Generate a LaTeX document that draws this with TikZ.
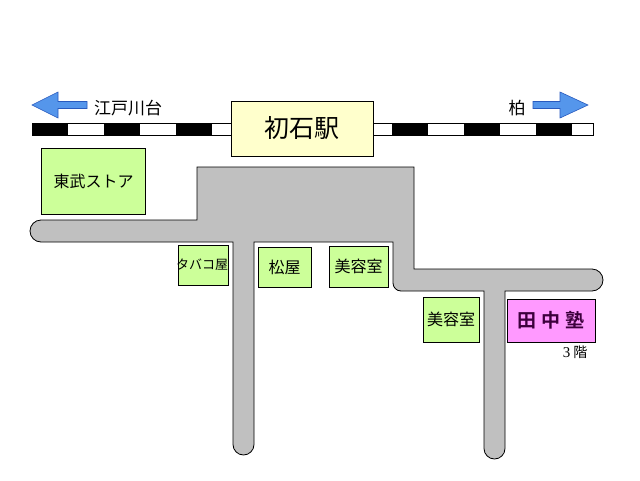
\documentclass[tikz,border=0pt]{standalone}
\usepackage{fontspec}
\setmainfont{Liberation Serif}
\newfontfamily\jp{Noto Sans CJK JP}
\newfontfamily\jpb{Noto Sans CJK JP}[BoldFont={* Bold}]
\definecolor{shopgreen}{RGB}{204,255,153}
\definecolor{stationyellow}{RGB}{255,255,204}
\definecolor{juku}{RGB}{255,153,255}
\definecolor{road}{RGB}{192,192,192}
\definecolor{arrowfill}{RGB}{85,150,235}
\definecolor{arrowedge}{RGB}{40,90,190}
\definecolor{jukutext}{RGB}{60,0,60}
\tikzset{
  shop/.style={draw=black, line width=0.8pt, fill=shopgreen, inner sep=0pt, anchor=center},
  roadpath/.style={draw=black, line width=0.8pt, fill=road},
  bluearrow/.style={draw=arrowedge, line width=0.6pt, fill=arrowfill},
  railblack/.style={fill=black},
}
\begin{document}
\begin{tikzpicture}[x=1pt,y=-1pt]
\useasboundingbox[fill=white] (0,0) rectangle (640,480);
% road network
\path[roadpath]
  (41,220) -- (197,220) -- (197,167) -- (414,167) -- (414,269) -- (592,269)
  arc[start angle=-90,end angle=90,radius=11] -- (505,291) -- (505,448.5)
  arc[start angle=0,end angle=180,radius=10.5] -- (484,291) -- (401,291)
  arc[start angle=90,end angle=180,radius=8] -- (393,242) -- (254,242) -- (254,444.5)
  arc[start angle=0,end angle=180,radius=10.5] -- (233,242) -- (41,242)
  arc[start angle=90,end angle=270,radius=11] -- cycle;
% railway
\draw[line width=0.8pt, fill=white] (32,123) rectangle (593,135);
\foreach \i in {0,...,7}{
  \fill[railblack] ({32+72*\i},123) rectangle ({68+72*\i},135);
}
\draw[line width=0.8pt] (32,123) -- (593,123) (32,135) -- (593,135);
% station
\node[draw=black, line width=0.8pt, fill=stationyellow, minimum width=142pt, minimum height=55pt, inner sep=0pt] (station) at (302,128.5) {\jp\fontsize{25}{25}\selectfont 初石駅};
% direction arrows
\path[bluearrow] (32,105) -- (58,92) -- (58,101.5) -- (87,101.5) -- (87,108.5) -- (58,108.5) -- (58,118) -- cycle;
\path[bluearrow] (588,105) -- (560,92) -- (560,101.5) -- (533,101.5) -- (533,108.5) -- (560,108.5) -- (560,118) -- cycle;
\node (edogawadai) at (128,108) {\jp\fontsize{17}{17}\selectfont 江戸川台};
\node (kashiwa) at (517,108) {\jp\fontsize{17}{17}\selectfont 柏};
% shops
\node[shop, minimum width=104pt, minimum height=66pt] (tobu) at (93.5,181) {\jp\fontsize{16}{16}\selectfont 東武ストア};
\node[shop, minimum width=50pt, minimum height=40pt] (tabako) at (203,265) {};
\node (tabakotext) at (202,265) {\jp\fontsize{13}{13}\selectfont タバコ屋};
\node[shop, minimum width=53pt, minimum height=40pt] (matsuya) at (284.5,267) {\jp\fontsize{16}{16}\selectfont 松屋};
\node[shop, minimum width=59pt, minimum height=41pt] (biyo1) at (358.5,266.5) {\jp\fontsize{16}{16}\selectfont 美容室};
\node[shop, minimum width=56pt, minimum height=45pt] (biyo2) at (451,319.5) {\jp\fontsize{16}{16}\selectfont 美容室};
\node[draw=black, line width=0.8pt, fill=juku, minimum width=88pt, minimum height=43pt, inner sep=0pt, text=jukutext] (tanaka) at (551,320.5) {\jpb\bfseries\fontsize{19}{19}\selectfont 田\hspace{5pt}中\hspace{5pt}塾};
\node (floor) at (575,352) {\fontsize{15}{15}\selectfont 3\hspace{3pt}{\jp\fontsize{14}{14}\selectfont 階}};
\end{tikzpicture}
\end{document}
